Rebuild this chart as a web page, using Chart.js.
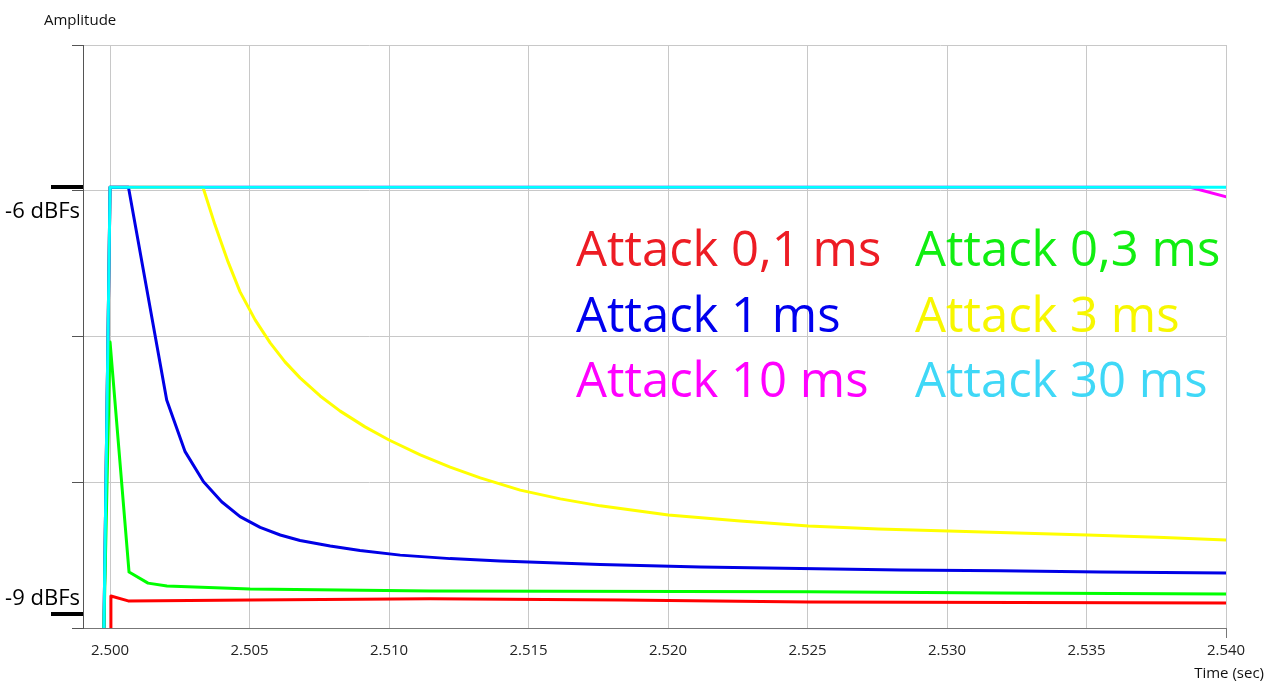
<!DOCTYPE html>
<html>
<head>
<meta charset="utf-8">
<script src="https://cdn.jsdelivr.net/npm/chart.js@4.4.1/dist/chart.umd.min.js"></script>
<style>
  html, body { margin: 0; padding: 0; background: #ffffff; overflow: hidden; }
  #wrap { width: 1274px; height: 681px; position: relative; }
</style>
</head>
<body>
<div id="wrap"><canvas id="c" width="1274" height="681"></canvas></div>
<script>
// Compressor attack comparison: amplitude envelope after a step (time in seconds)
const seriesNames = ['Attack 0,1 ms', 'Attack 0,3 ms', 'Attack 1 ms', 'Attack 3 ms', 'Attack 10 ms', 'Attack 30 ms'];
const lineColors  = ['#ff0000', '#00ff00', '#0000e6', '#ffff00', '#ff00ff', '#00ffff'];
const labelColors = ['#ed1c24', '#11ee11', '#0000ee', '#f7f700', '#ff00ff', '#3fd8f7'];

// Attack 0,1 ms
const t01 = [2.50000, 2.50003, 2.50065, 2.50502, 2.51147, 2.51832, 2.52503, 2.54001];
const a01 = [0.3500, 0.3610, 0.3593, 0.3596, 0.3600, 0.3596, 0.3589, 0.3586];
// Attack 0,3 ms
const t03 = [2.49978, 2.50000, 2.50068, 2.50136, 2.50204, 2.50502, 2.51147, 2.52503, 2.53191, 2.54001];
const a03 = [0.3500, 0.4481, 0.3692, 0.3654, 0.3644, 0.3634, 0.3627, 0.3624, 0.3620, 0.3617];
// Attack 1 ms
const t1 = [2.49978, 2.50000, 2.50066, 2.50203, 2.50269, 2.50335, 2.50400, 2.50466, 2.50538, 2.50610,
            2.50681, 2.50789, 2.50896, 2.51040, 2.51219, 2.51398, 2.51757, 2.52115, 2.52474, 2.52833,
            2.53191, 2.53550, 2.54001];
const a1 = [0.3500, 0.5012, 0.5012, 0.4282, 0.4105, 0.4002, 0.3933, 0.3882, 0.3845, 0.3819,
            0.3800, 0.3781, 0.3766, 0.3750, 0.3738, 0.3730, 0.3718, 0.3709, 0.3704, 0.3699,
            0.3696, 0.3692, 0.3689];
// Attack 3 ms
const t3 = [2.49978, 2.50000, 2.50333, 2.50376, 2.50423, 2.50466, 2.50520, 2.50574, 2.50627, 2.50681,
            2.50753, 2.50825, 2.50914, 2.51000, 2.51112, 2.51219, 2.51327, 2.51470, 2.51614, 2.51757,
            2.52001, 2.52259, 2.52503, 2.52754, 2.53005, 2.53252, 2.53503, 2.53754, 2.54001];
const a3 = [0.3500, 0.5012, 0.5012, 0.4883, 0.4756, 0.4653, 0.4557, 0.4478, 0.4413, 0.4358,
            0.4296, 0.4244, 0.4190, 0.4145, 0.4094, 0.4052, 0.4015, 0.3973, 0.3943, 0.3919,
            0.3888, 0.3867, 0.3850, 0.3840, 0.3833, 0.3826, 0.3819, 0.3811, 0.3802];
// Attack 10 ms
const t10 = [2.49978, 2.50000, 2.53872, 2.54001];
const a10 = [0.3500, 0.5012, 0.5012, 0.4979];
// Attack 30 ms
const t30 = [2.49978, 2.50000, 2.54001];
const a30 = [0.3500, 0.5012, 0.5012];

const seriesTimes  = [t01, t03, t1, t3, t10, t30];
const seriesAmps   = [a01, a03, a1, a3, a10, a30];
const drawOrder    = [1, 2, 3, 4, 5, 0];   // lower is drawn on top

// Axis ticks
const xTicks = [2.500, 2.505, 2.510, 2.515, 2.520, 2.525, 2.530, 2.535, 2.540];
const yGrid  = [0.35, 0.40, 0.45, 0.50, 0.55];
const dbMarks  = [-6, -9];
const dbLabels = ['-6 dBFs', '-9 dBFs'];

const datasets = seriesNames.map((name, i) => ({
  label: name,
  data: seriesTimes[i].map((t, k) => ({ x: t, y: seriesAmps[i][k] })),
  borderColor: lineColors[i],
  backgroundColor: lineColors[i],
  borderWidth: 3,
  pointRadius: 0,
  tension: 0,
  fill: false,
  clip: 0,
  borderJoinStyle: 'round',
  order: drawOrder[i]
}));

// Axis titles, dBFs reference marks and the coloured series captions
const decorations = {
  id: 'decorations',
  afterDraw(chart) {
    const ctx = chart.ctx;
    const area = chart.chartArea;
    const ys = chart.scales.y;
    ctx.save();

    ctx.fillStyle = '#111';
    ctx.font = '15px "Open Sans"';
    ctx.textBaseline = 'alphabetic';
    ctx.textAlign = 'left';
    ctx.fillText('Amplitude', 44, 25);
    ctx.textAlign = 'right';
    ctx.fillText('Time (sec)', 1264, 678);

    dbMarks.forEach((db, i) => {
      const y = ys.getPixelForValue(Math.pow(10, db / 20));
      ctx.fillStyle = '#000';
      ctx.fillRect(area.left - 32, Math.round(y) - 2, 32, 4);
      ctx.font = '22px "Open Sans"';
      ctx.textAlign = 'right';
      const below = y + 31;
      const by = below > area.bottom - 4 ? y - 9 : below;
      ctx.fillText(dbLabels[i], area.left - 3, by);
    });

    ctx.font = '49px "Open Sans"';
    ctx.textAlign = 'left';
    chart.data.datasets.forEach((ds, i) => {
      const col = i % 2, row = Math.floor(i / 2);
      ctx.fillStyle = labelColors[i];
      ctx.fillText(ds.label, col === 0 ? 576 : 915, 266 + row * 65.5);
    });
    ctx.restore();
  }
};

new Chart(document.getElementById('c'), {
  type: 'line',
  data: { datasets },
  plugins: [decorations],
  options: {
    responsive: false,
    animation: false,
    devicePixelRatio: 1,
    layout: { padding: { top: 45, right: 48, left: 0, bottom: 0 } },
    plugins: { legend: { display: false }, tooltip: { enabled: false } },
    scales: {
      x: {
        type: 'linear',
        min: 2.49903,
        max: 2.540,
        afterBuildTicks: s => { s.ticks = xTicks.map(v => ({ value: v })); },
        afterFit: s => { s.height = 53; },
        ticks: {
          color: '#222',
          font: { family: 'Open Sans', size: 15 },
          padding: 4,
          maxRotation: 0,
          autoSkip: false,
          callback: v => Number(v).toFixed(3)
        },
        grid: {
          color: '#c8c8c8',
          lineWidth: 1,
          drawTicks: true,
          tickLength: 10,
          tickColor: c => (c.index === xTicks.length - 1 ? '#777' : 'rgba(0,0,0,0)')
        },
        border: { color: '#777', width: 1 }
      },
      y: {
        type: 'linear',
        min: 0.35,
        max: 0.55,
        afterBuildTicks: s => { s.ticks = yGrid.map(v => ({ value: v })); },
        afterFit: s => { s.width = 83; },
        ticks: { display: false },
        grid: {
          color: '#c8c8c8',
          lineWidth: 1,
          drawTicks: true,
          tickLength: 11,
          tickColor: '#555'
        },
        border: { color: '#555', width: 1 }
      }
    }
  }
});
</script>
</body>
</html>
